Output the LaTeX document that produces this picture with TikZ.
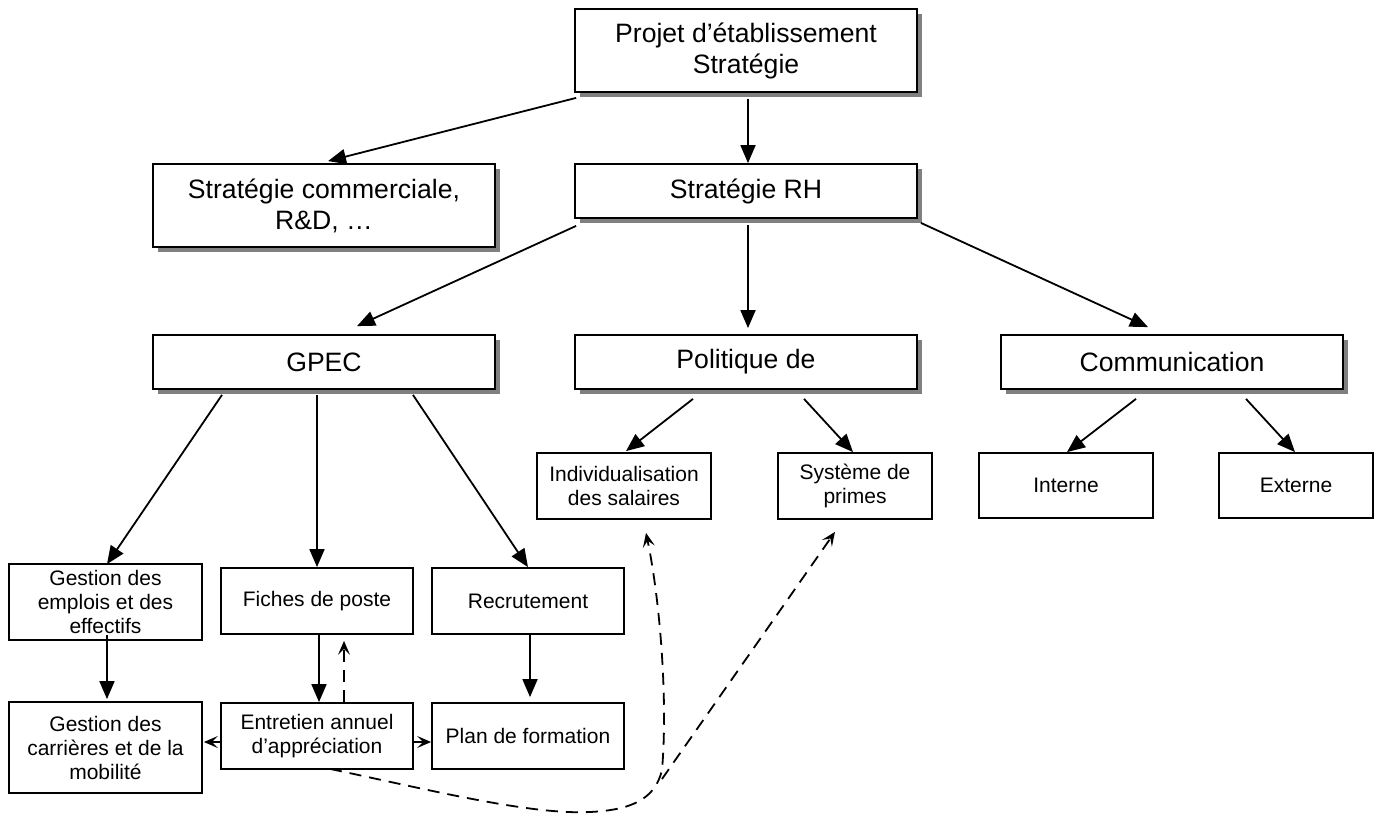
\documentclass[tikz,border=0pt]{standalone}
\usepackage{fontspec}
\setmainfont{Liberation Sans}
\usetikzlibrary{arrows.meta,shadows}

\begin{document}
\begin{tikzpicture}[x=0.5pt,y=-0.5pt,
  bigbox/.style={draw,line width=0.9pt,fill=white,align=center,inner sep=0pt,
    font=\fontsize{13.3pt}{15.5pt}\selectfont,
    drop shadow={shadow xshift=2.5pt,shadow yshift=-2.5pt,fill=black!50,opacity=1}},
  smallbox/.style={draw,line width=0.9pt,fill=white,align=center,inner sep=0pt,
    font=\fontsize{10.5pt}{12pt}\selectfont},
  link/.style={line width=0.9pt,-{Triangle[length=9pt,width=7.5pt]}},
  feedback/.style={line width=0.9pt,dash pattern=on 6pt off 4pt,
    -{Stealth[length=7pt,width=6pt,inset=3pt]}}]

\useasboundingbox (0,0) rectangle (1382,815);

\node[bigbox, minimum width=171pt, minimum height=41.5pt] (projet) at (746,50.5) {Projet d’établissement\\Stratégie};
\node[bigbox, minimum width=171pt, minimum height=41.5pt] (commercial) at (324,205.5) {Stratégie commerciale,\\R\&D, …};
\node[bigbox, minimum width=171pt, minimum height=27pt] (rh) at (746,191) {Stratégie RH};

\node[bigbox, minimum width=171pt, minimum height=27pt] (gpec) at (324,362) {GPEC};
\node[bigbox, minimum width=171pt, minimum height=27pt] (politique) at (746,362) {Politique de};
\node[bigbox, minimum width=171pt, minimum height=27pt] (communication) at (1172,362) {Communication};

\node[smallbox, minimum width=87pt, minimum height=33pt] (indiv) at (624,486) {Individualisation\\des salaires};
\node[smallbox, minimum width=77pt, minimum height=33pt] (primes) at (855,486) {Système de\\primes};
\node[smallbox, minimum width=87pt, minimum height=32.5pt] (interne) at (1066,485.5) {Interne};
\node[smallbox, minimum width=77pt, minimum height=32.5pt] (externe) at (1296,485.5) {Externe};

\node[smallbox, minimum width=96.5pt, minimum height=38pt] (emplois) at (105.5,602) {Gestion des\\emplois et des\\effectifs};
\node[smallbox, minimum width=96pt, minimum height=33pt] (fiches) at (317,601) {Fiches de poste};
\node[smallbox, minimum width=96pt, minimum height=33pt] (recrut) at (528,601) {Recrutement};
\node[smallbox, minimum width=96.5pt, minimum height=45.5pt] (carrieres) at (105.5,747.5) {Gestion des\\carrières et de la\\mobilité};
\node[smallbox, minimum width=96pt, minimum height=33pt] (entretien) at (317,736) {Entretien annuel\\d’appréciation};
\node[smallbox, minimum width=96pt, minimum height=33pt] (formation) at (528,736) {Plan de formation};

\draw[link] ([shift={(2,5)}]projet.south west) -- ([shift={(4,-2)}]commercial.north);
\draw[link] ([shift={(2,6)}]projet.south) -- ([shift={(2,0)}]rh.north);
\draw[link] ([shift={(2,7)}]rh.south west) -- ([shift={(33,-8)}]gpec.north);
\draw[link] ([shift={(2,6)}]rh.south) -- ([shift={(2,-6)}]politique.north);
\draw[link] ([shift={(3,4)}]rh.south east) -- ([shift={(-24,-7)}]communication.north);

\draw[link] ([shift={(-102,5)}]gpec.south) -- ([shift={(1.5,1)}]emplois.north);
\draw[link] ([shift={(-7,5)}]gpec.south) -- (fiches.north);
\draw[link] ([shift={(89,5)}]gpec.south) -- (recrut.north);
\draw[link] ([shift={(-53,9)}]politique.south) -- ([shift={(2,-1)}]indiv.north);
\draw[link] ([shift={(58,9)}]politique.south) -- ([shift={(-2,0)}]primes.north);
\draw[link] ([shift={(-36,9)}]communication.south) -- ([shift={(1,0)}]interne.north);
\draw[link] ([shift={(74,9)}]communication.south) -- ([shift={(-1,0)}]externe.north);

\draw[link] ([shift={(1.5,-6)}]emplois.south) -- ([shift={(1.5,-2)}]carrieres.north);
\draw[link] ([shift={(2,0)}]fiches.south) -- ([shift={(2,0)}]entretien.north);
\draw[link] ([shift={(2,0)}]recrut.south) -- ([shift={(2,-5)}]formation.north);

\draw[feedback] ([shift={(27,0)}]entretien.north) -- ([shift={(27,6)}]fiches.south);
\draw[feedback] ([shift={(0,6)}]entretien.west) -- ([shift={(1,-5.5)}]carrieres.east);
\draw[feedback] ([shift={(0,6)}]entretien.east) -- ([shift={(0,6)}]formation.west);

\coordinate (fork) at (662,779);
\draw[feedback] ([shift={(13,-1)}]entretien.south) .. controls (430,790) and (530,815) .. (590,812)
  .. controls (630,810) and (655,800) .. (662,770)
  .. controls (668,700) and (660,600) .. ([shift={(22,13)}]indiv.south);
\draw[feedback] (fork) -- ([shift={(-20,12)}]primes.south);

\end{tikzpicture}
\end{document}
